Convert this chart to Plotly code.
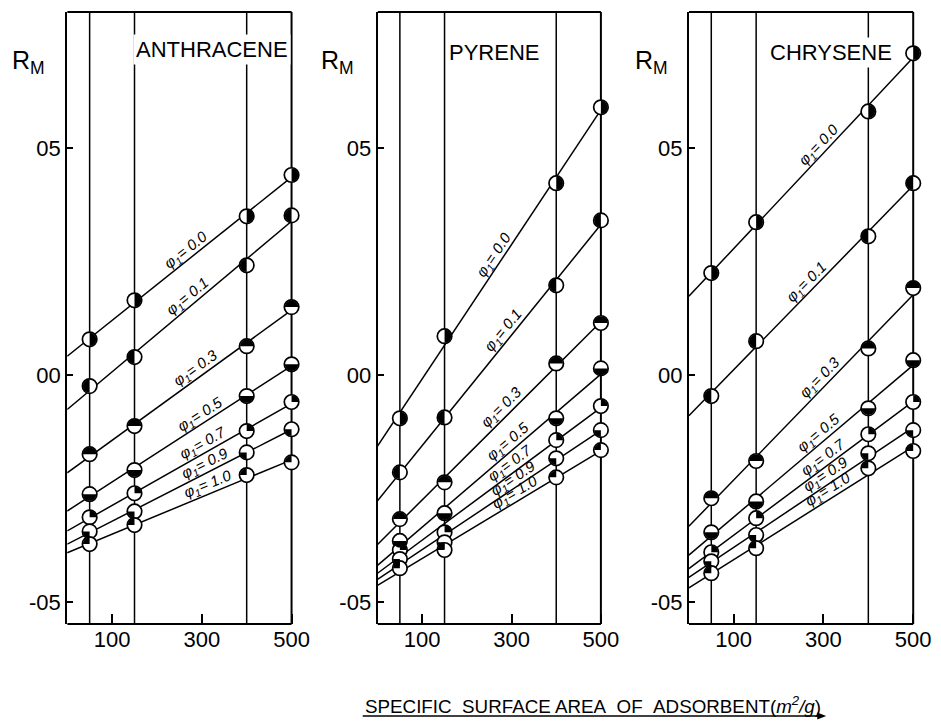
import math
import numpy as np
import plotly.graph_objects as go

# ---------------- data ----------------
surface_area = [50, 150, 400, 500]           # m2/g, x positions of the measurements
phi_values = ["0.0", "0.1", "0.3", "0.5", "0.7", "0.9", "1.0"]
compounds = ["ANTHRACENE", "PYRENE", "CHRYSENE"]

# R_M values, one row per phi value, columns follow surface_area
rm_anthracene = [
    [0.079, 0.165, 0.350, 0.441],
    [-0.024, 0.040, 0.242, 0.352],
    [-0.174, -0.112, 0.064, 0.150],
    [-0.262, -0.209, -0.046, 0.024],
    [-0.313, -0.260, -0.123, -0.059],
    [-0.344, -0.300, -0.170, -0.119],
    [-0.372, -0.330, -0.220, -0.192],
]
rm_pyrene = [
    [-0.095, 0.086, 0.423, 0.590],
    [-0.214, -0.093, 0.198, 0.341],
    [-0.317, -0.236, 0.026, 0.115],
    [-0.365, -0.304, -0.095, 0.015],
    [-0.385, -0.346, -0.143, -0.068],
    [-0.405, -0.368, -0.183, -0.121],
    [-0.425, -0.385, -0.225, -0.165],
]
rm_chrysene = [
    [0.225, 0.337, 0.581, 0.709],
    [-0.046, 0.075, 0.306, 0.423],
    [-0.271, -0.189, 0.059, 0.192],
    [-0.346, -0.278, -0.073, 0.033],
    [-0.390, -0.315, -0.130, -0.059],
    [-0.410, -0.352, -0.172, -0.121],
    [-0.436, -0.381, -0.205, -0.167],
]
rm_data = [rm_anthracene, rm_pyrene, rm_chrysene]

x_tick_vals = [100, 300, 500]
x_tick_text = ["100", "300", "500"]
y_tick_vals = [-0.5, 0.0, 0.5]
y_tick_text = ["-05", "00", "05"]

# ---------------- styling / layout ----------------
W, H = 941, 724
X_MAX = 500          # right border of each panel (data units)
X_PAD = 16           # extra room so the markers on the border are not clipped
panel_px = [(68, 295), (382, 608), (697, 924)]   # left edge / x=500 border in pixels
x_domains = []
for l, r in panel_px:
    right = l + (r - l) * (X_MAX + X_PAD) / X_MAX
    x_domains.append((l / W, right / W))
y_domain = (1 - 624 / H, 1 - 12 / H)
x_range = [0, X_MAX + X_PAD]
y_range = [-0.548, 0.80]

# black part of each marker, as (start, end) angle in degrees (counter-clockwise)
marker_fill = [(-90, 90), (90, 270), (0, 180), (180, 360), (0, 90), (180, 270), (90, 180)]
# x (data units) where each phi label sits along its line
label_x = [
    [264, 269, 286, 297, 302, 308, 313],
    [260, 282, 278, 293, 297, 304, 308],
    [289, 262, 293, 289, 300, 306, 311],
]
title_centers_px = [(215, 50), (500, 52), (841, 52)]
rm_left_px = [10, 323, 640]

FONT = "Liberation Sans"
R_MARK = 6.7


def sector_path(a0, a1, r):
    n = max(1, int(math.ceil((a1 - a0) / 90.0)))
    step = (a1 - a0) / n
    t0 = math.radians(a0)
    path = "M 0,0 L %.3f,%.3f" % (r * math.cos(t0), r * math.sin(t0))
    for k in range(n):
        s = math.radians(a0 + k * step)
        e = math.radians(a0 + (k + 1) * step)
        kk = 4.0 / 3.0 * math.tan((e - s) / 4.0)
        p0 = (r * math.cos(s), r * math.sin(s))
        p3 = (r * math.cos(e), r * math.sin(e))
        p1 = (p0[0] - kk * r * math.sin(s), p0[1] + kk * r * math.cos(s))
        p2 = (p3[0] + kk * r * math.sin(e), p3[1] - kk * r * math.cos(e))
        path += " C %.3f,%.3f %.3f,%.3f %.3f,%.3f" % (p1 + p2 + p3)
    return path + " Z"


fig = go.Figure()
annotations = []
shapes = []

for p, (name, data) in enumerate(zip(compounds, rm_data)):
    xa = "x" if p == 0 else "x%d" % (p + 1)
    ya = "y" if p == 0 else "y%d" % (p + 1)
    xs = np.array(surface_area, dtype=float)
    xd, yd = x_domains[p], y_domain
    sx = (xd[1] - xd[0]) * W / (x_range[1] - x_range[0])
    sy = (yd[1] - yd[0]) * H / (y_range[1] - y_range[0])

    # vertical measurement lines
    for xv in surface_area:
        shapes.append(dict(type="line", xref=xa, yref=ya + " domain", x0=xv, x1=xv, y0=0, y1=1,
                           line=dict(color="black", width=2 if xv == X_MAX else 1.5),
                           layer="below"))
    # top and bottom frame of the panel (0 .. 500)
    for yy in (0, 1):
        shapes.append(dict(type="line", xref=xa, yref=ya + " domain", x0=0, x1=X_MAX, y0=yy, y1=yy,
                           line=dict(color="black", width=2), layer="above"))

    fits = []
    for i, ys in enumerate(data):
        slope, icpt = np.polyfit(xs, np.array(ys), 1)
        fits.append((slope, icpt))
        xl = np.array([0, X_MAX], dtype=float)
        fig.add_trace(go.Scatter(x=xl, y=icpt + slope * xl, mode="lines",
                                 line=dict(color="black", width=1.5),
                                 xaxis=xa, yaxis=ya, showlegend=False, hoverinfo="skip"))
    for i, ys in enumerate(data):
        fig.add_trace(go.Scatter(x=xs, y=ys, mode="markers",
                                 marker=dict(symbol="circle", size=14.5, color="white",
                                             line=dict(color="black", width=1.7)),
                                 xaxis=xa, yaxis=ya, showlegend=False, cliponaxis=False,
                                 name="%s φ1=%s" % (name, phi_values[i])))
        a0, a1 = marker_fill[i]
        for xv, yv in zip(xs, ys):
            shapes.append(dict(type="path", xref=xa, yref=ya, xsizemode="pixel", ysizemode="pixel",
                               xanchor=float(xv), yanchor=float(yv),
                               path=sector_path(a0, a1, R_MARK), fillcolor="black",
                               line=dict(width=0), layer="above"))
        # phi label along the line
        slope, icpt = fits[i]
        ang = math.atan(slope * sy / sx)
        lx = label_x[p][i]
        annotations.append(dict(x=lx, y=icpt + slope * lx, xref=xa, yref=ya,
                                text="<i>φ<sub>1</sub>= %s</i>" % phi_values[i],
                                showarrow=False, textangle=-math.degrees(ang),
                                yshift=9 / math.cos(ang),
                                font=dict(family=FONT, size=15, color="black")))

    # compound title
    cx, cy = title_centers_px[p]
    annotations.append(dict(x=cx / W, y=1 - cy / H, xref="paper", yref="paper", text=name,
                            showarrow=False, bgcolor="white", borderpad=2,
                            font=dict(family=FONT, size=22, color="black"),
                            xanchor="center", yanchor="middle"))
    # R_M label
    annotations.append(dict(x=rm_left_px[p] / W, y=1 - 62 / H, xref="paper", yref="paper",
                            text="R<sub>M</sub>", showarrow=False, xanchor="left", yanchor="middle",
                            font=dict(family=FONT, size=25, color="black")))

# bottom caption, underlined, with an arrow at its end
cap_left, cap_right, cap_y, line_y = 367, 824, 705, 716
annotations.append(dict(x=cap_left / W, y=1 - cap_y / H, xref="paper", yref="paper",
                        text="SPECIFIC\u00a0\u00a0SURFACE AREA\u00a0\u00a0OF\u00a0\u00a0ADSORBENT(<i>m<sup>2</sup>/g</i>)",
                        showarrow=False, xanchor="left", yanchor="middle",
                        font=dict(family=FONT, size=18.8, color="black")))
shapes.append(dict(type="line", xref="paper", yref="paper", x0=cap_left / W, x1=(cap_right + 8) / W,
                   y0=1 - line_y / H, y1=1 - line_y / H, line=dict(color="black", width=1.4)))
shapes.append(dict(type="path", xref="paper", yref="paper", xsizemode="pixel", ysizemode="pixel",
                   xanchor=(cap_right + 12) / W, yanchor=1 - line_y / H,
                   path="M 0,0 L -9,3.5 L -9,-3.5 Z", fillcolor="black", line=dict(width=0)))

layout = dict(
    width=W, height=H, margin=dict(l=0, r=0, t=0, b=0),
    paper_bgcolor="white", plot_bgcolor="white",
    showlegend=False, annotations=annotations, shapes=shapes,
    font=dict(family=FONT, color="black"),
)
for p in range(3):
    xk = "xaxis" if p == 0 else "xaxis%d" % (p + 1)
    yk = "yaxis" if p == 0 else "yaxis%d" % (p + 1)
    ya = "y" if p == 0 else "y%d" % (p + 1)
    xa = "x" if p == 0 else "x%d" % (p + 1)
    layout[xk] = dict(domain=list(x_domains[p]), range=x_range, anchor=ya,
                      showline=False, mirror=False,
                      showgrid=False, zeroline=False, tickmode="array",
                      tickvals=x_tick_vals, ticktext=x_tick_text, ticks="inside",
                      ticklen=10, tickwidth=1.5, tickcolor="black",
                      tickfont=dict(family=FONT, size=22, color="black"))
    layout[yk] = dict(domain=list(y_domain), range=y_range, anchor=xa,
                      showline=True, mirror=False, linecolor="black", linewidth=2,
                      showgrid=False, zeroline=False, tickmode="array",
                      tickvals=y_tick_vals, ticktext=y_tick_text, ticks="inside",
                      ticklen=6, tickwidth=1.5, tickcolor="black",
                      tickfont=dict(family=FONT, size=22, color="black"))

fig.update_layout(**layout)
fig.write_html("out.html")
